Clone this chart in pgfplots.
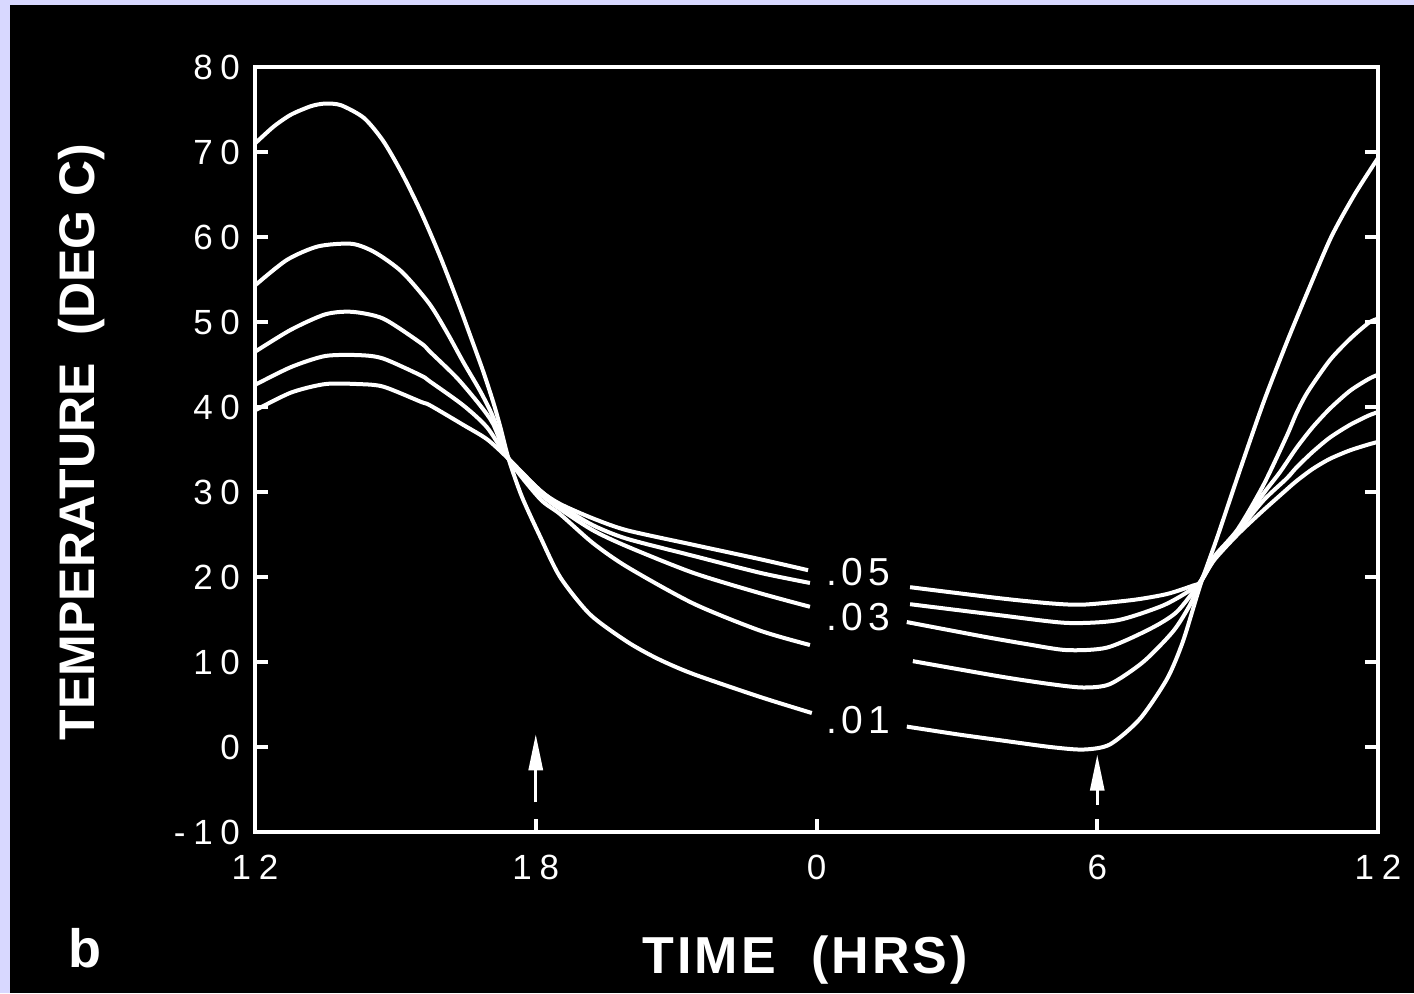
\documentclass[border=0pt]{standalone}
\usepackage{fontspec}
\setmainfont{Liberation Sans}
\usepackage{pgfplots}
\pgfplotsset{compat=1.18}
\usepackage{pgfplotstable}
\usetikzlibrary{arrows.meta}
\definecolor{lav}{RGB}{216,216,255}

% curves labelled .01 (largest amplitude) ... .05 (smallest)
\pgfplotstableread{
t T
0 71.0
0.4 73.0
0.77 74.4
1.2 75.4
1.5 75.7
1.84 75.5
2.33 74.0
2.74 71.3
3.14 67.5
3.55 62.9
3.95 57.8
4.36 52.0
4.6 48.4
4.87 44.3
5.09 40.6
5.24 37.7
5.42 33.9
5.7 29.5
6.09 24.8
6.52 20.0
7.16 15.6
7.95 12.4
8.6 10.4
9.36 8.6
10.79 5.9
11.9 4.0
12.5 nan
13.93 2.4
15.0 1.5
15.92 0.8
17.0 0.0
17.7 -0.3
18.27 0.3
18.91 3.3
19.49 8.0
19.83 12.4
20.2 19.0
20.56 24.6
21.05 32.6
21.55 40.5
22.05 47.6
22.5 53.6
23.0 60.0
23.5 65.0
24.0 69.3
}\serA

\pgfplotstableread{
t T
0 54.3
0.68 57.3
1.35 58.9
2.07 59.2
2.56 58.2
3.14 55.9
3.72 52.2
4.1 48.8
4.45 45.3
4.81 41.9
5.09 38.8
5.42 33.9
6.09 29.2
6.52 27.4
7.22 24.0
7.95 21.2
9.36 16.9
10.79 13.7
11.86 12.0
12.5 nan
14.06 10.1
15.92 8.3
17.0 7.4
17.7 7.0
18.27 7.4
18.98 10.0
19.62 13.6
19.98 16.7
20.2 19.4
20.5 22.4
21.0 25.6
21.55 30.8
22.05 36.6
22.26 39.3
22.5 41.8
22.97 45.5
23.4 48.0
23.8 49.9
24.0 50.4
}\serB

\pgfplotstableread{
t T
0 46.5
0.77 49.1
1.5 50.9
2.07 51.2
2.74 50.4
3.55 47.5
3.74 46.5
4.32 43.4
4.81 40.2
5.09 38.0
5.42 33.9
6.09 29.8
6.52 28.0
7.22 25.5
7.95 23.6
9.36 20.5
10.79 18.1
11.86 16.5
12.5 nan
13.93 14.7
15.56 13.0
16.5 12.1
17.35 11.4
18.21 11.7
19.13 13.9
19.70 15.9
20.2 19.4
20.5 22.2
21.0 25.5
21.55 29.8
21.9 32.3
22.26 35.2
22.6 37.6
22.97 39.8
23.4 41.9
23.8 43.3
24.0 43.8
}\serC

\pgfplotstableread{
t T
0 42.6
0.77 44.7
1.5 46.0
2.24 46.1
2.74 45.7
3.55 43.7
3.74 43.0
4.45 40.2
4.96 37.6
5.42 33.9
6.09 30.2
6.52 28.4
7.22 26.1
7.95 24.5
9.36 22.5
10.79 20.5
11.86 19.3
12.5 nan
14.0 16.8
15.92 15.5
17.35 14.6
18.42 14.9
19.34 16.5
19.83 17.9
20.2 19.4
20.5 22.1
21.0 25.3
21.55 29.0
22.05 31.6
22.26 32.9
22.6 34.7
22.97 36.4
23.4 37.9
23.8 39.0
24.0 39.4
}\serD

\pgfplotstableread{
t T
0 39.6
0.77 41.7
1.5 42.7
2.2 42.7
2.74 42.4
3.55 40.6
3.74 40.2
4.45 37.9
4.96 36.2
5.42 33.9
6.09 30.2
6.52 28.6
7.22 26.9
7.95 25.5
9.36 23.8
10.79 22.1
11.82 20.8
12.5 nan
14.0 18.8
15.92 17.5
17.0 16.9
17.7 16.75
18.76 17.3
19.49 18.0
20.05 19.0
20.2 19.4
20.5 22.0
21.0 25.0
21.5 27.6
22.05 30.3
22.26 31.3
22.6 32.7
22.97 33.9
23.4 34.9
23.8 35.6
24.0 35.9
}\serE

\begin{document}
\begin{tikzpicture}
\fill[lav] (0,0) rectangle (707pt,496.5pt);
\fill[black] (5pt,0) rectangle (707pt,494pt);
\path[use as bounding box] (0,0) rectangle (707pt,496.5pt);
\begin{axis}[
  at={(127.5pt,80.5pt)}, anchor=south west,
  width=561.5pt, height=382.5pt, scale only axis,
  xmin=0, xmax=24, ymin=-10, ymax=80,
  xtick={0,6,12,18,24}, xticklabels={12,18,0,6,12},
  ytick={-10,0,10,20,30,40,50,60,70,80},
  yticklabels={-10,0,10,20,30,40,50,60,70,80},
  xtick pos=bottom, ytick pos=both,
  tick align=inside,
  major tick length=6.5pt,
  axis line style={white, line width=2.2pt},
  tick style={white, line width=2pt},
  ticklabel style={white, font=\fontsize{17.5}{17.5}\selectfont\addfontfeature{LetterSpace=22}},
  xticklabel style={yshift=-8pt},
  yticklabel style={xshift=-4pt},
  xlabel={TIME\ \ (HRS)},
  ylabel={TEMPERATURE\ \ (DEG C)},
  xlabel style={white, at={(axis description cs:0.49,-0.167)}, anchor=center,
    font=\fontsize{26}{26}\selectfont\bfseries\addfontfeature{LetterSpace=6}},
  ylabel style={white, at={(axis description cs:-0.154,0.51)}, anchor=center,
    font=\fontsize{25}{25}\selectfont\bfseries},
  unbounded coords=jump,
  clip=false,
]
\addplot[white, line width=2pt, no marks, smooth, tension=0.45] table[x=t,y=T] {\serA};
\addplot[white, line width=2pt, no marks, smooth, tension=0.45] table[x=t,y=T] {\serB};
\addplot[white, line width=2pt, no marks, smooth, tension=0.45] table[x=t,y=T] {\serC};
\addplot[white, line width=2pt, no marks, smooth, tension=0.45] table[x=t,y=T] {\serD};
\addplot[white, line width=2pt, no marks, smooth, tension=0.45] table[x=t,y=T] {\serE};
\node[white, font=\fontsize{19.5}{19.5}\selectfont\addfontfeature{LetterSpace=12}] at (axis cs:12.89,20.6) {.05};
\node[white, font=\fontsize{19.5}{19.5}\selectfont\addfontfeature{LetterSpace=12}] at (axis cs:12.89,15.3) {.03};
\node[white, font=\fontsize{19.5}{19.5}\selectfont\addfontfeature{LetterSpace=12}] at (axis cs:12.89,3.2) {.01};
\draw[white, line width=1.5pt, -{Triangle[length=18pt,width=7pt]}] (axis cs:6,-6.5) -- (axis cs:6,1.5);
\draw[white, line width=1.5pt, -{Triangle[length=18pt,width=7pt]}] (axis cs:18,-6.8) -- (axis cs:18,-0.9);
\end{axis}
\node[white, font=\fontsize{27}{27}\selectfont\bfseries] at (42.5pt,22.5pt) {b};
\end{tikzpicture}
\end{document}
